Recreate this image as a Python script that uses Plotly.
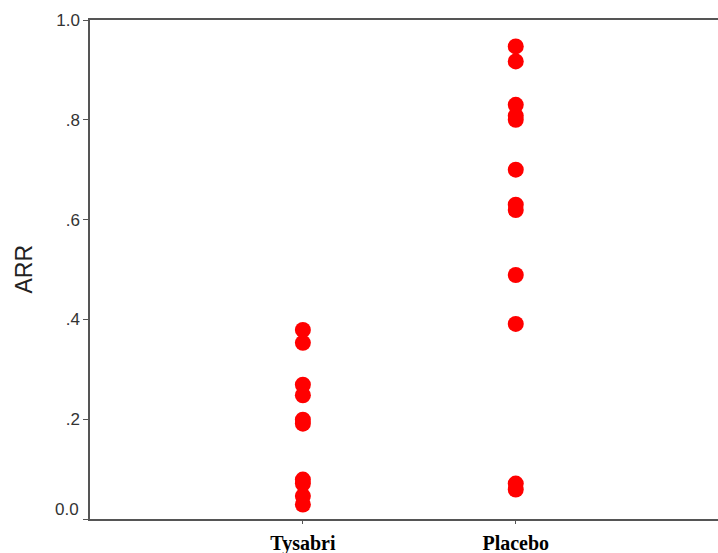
import plotly.graph_objects as go

categories = ["Tysabri", "Placebo"]
cat_pos = [1, 2]
tysabri_arr = [0.379, 0.353, 0.269, 0.248, 0.199, 0.191, 0.079, 0.071, 0.046, 0.029]
placebo_arr = [0.947, 0.917, 0.830, 0.808, 0.800, 0.700, 0.630, 0.619, 0.489, 0.391, 0.071, 0.059]
y_tickvals = [0.0, 0.2, 0.4, 0.6, 0.8, 1.0]
y_ticktext = ["", ".2", ".4", ".6", ".8", "1.0"]
zero_label = "0.0"
y_title = "ARR"

fig = go.Figure()
for pos, vals in zip(cat_pos, [tysabri_arr, placebo_arr]):
    fig.add_trace(go.Scatter(
        x=[pos] * len(vals), y=vals, mode="markers",
        marker=dict(symbol="circle", size=16, color="#ff0000", line=dict(width=0)),
        showlegend=False, hoverinfo="y",
    ))

tick_font = dict(family="Liberation Sans", size=17, color="#333333")

fig.add_annotation(
    xref="paper", yref="y", x=0, y=0, text=zero_label, showarrow=False,
    xanchor="right", yanchor="middle", xshift=-9, yshift=10, font=tick_font,
)
fig.add_annotation(
    xref="paper", yref="paper", x=0, y=0.5, text=y_title, showarrow=False,
    textangle=-90, xanchor="center", yanchor="middle", xshift=-67,
    font=dict(family="Liberation Sans", size=23, color="#222222"),
)

fig.update_layout(
    width=718, height=553,
    margin=dict(l=90, r=0, t=20, b=34, autoexpand=False),
    paper_bgcolor="white", plot_bgcolor="white",
    xaxis=dict(
        range=[0, 2.95], tickvals=cat_pos, ticktext=categories,
        showgrid=False, zeroline=False, automargin=False,
        showline=True, linecolor="#555555", linewidth=1.5, mirror=True,
        ticks="outside", ticklen=3, tickcolor="#555555",
        ticklabelstandoff=2,
        tickfont=dict(family="Liberation Serif", size=20, color="#000000", weight="bold"),
    ),
    yaxis=dict(
        range=[0, 1.0], tickvals=y_tickvals, ticktext=y_ticktext,
        showgrid=False, zeroline=False, automargin=False,
        showline=True, linecolor="#555555", linewidth=1.5,
        ticks="outside", ticklen=5, tickcolor="#555555",
        tickfont=tick_font,
    ),
)

fig.write_html(
    "out.html",
    config={"displayModeBar": False},
    post_script="document.body.style.margin='0';document.body.style.overflow='hidden';",
)
